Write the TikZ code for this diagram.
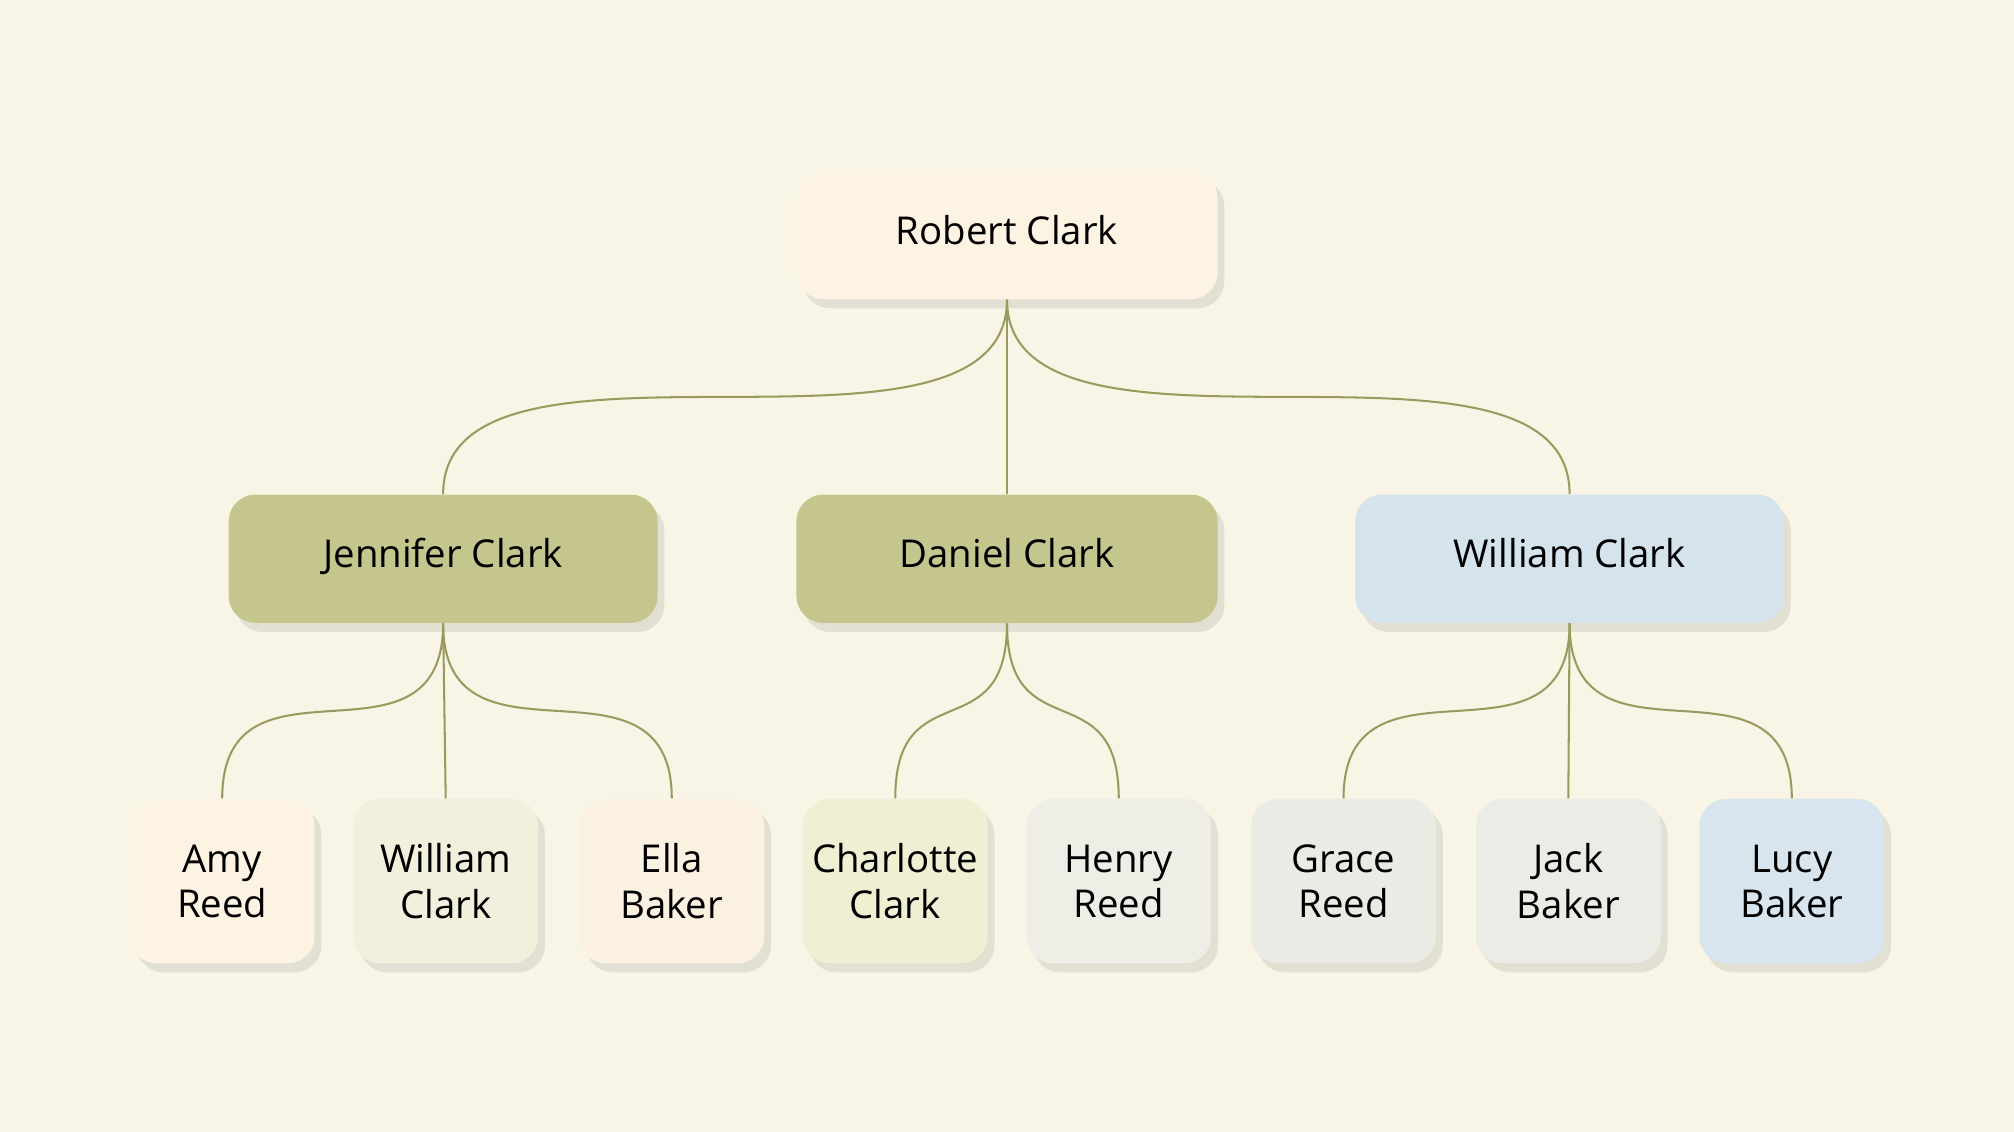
\documentclass[tikz,border=0pt]{standalone}
\usepackage{fontspec}
\setmainfont{Open Sans}
\usetikzlibrary{shadows}
\definecolor{bgcol}{HTML}{F8F4E6}
\definecolor{linecol}{HTML}{9A9A5E}
\definecolor{rootcol}{HTML}{FCF3E3}
\definecolor{olivecol}{HTML}{C5C68E}
\definecolor{bluecol}{HTML}{D5E3EC}
\definecolor{leafa}{HTML}{F1F0DC}
\definecolor{leafb}{HTML}{FBF1E1}
\definecolor{leafc}{HTML}{EEEFD3}
\definecolor{leafd}{HTML}{EEEEE6}
\definecolor{leafe}{HTML}{EBEBE5}
\definecolor{leaff}{HTML}{ECECE6}
\definecolor{leafg}{HTML}{D8E5EE}
\begin{document}
\begin{tikzpicture}[x=0.02cm,y=-0.02cm]
	\tikzstyle{box} = [rounded corners=12pt, align=center, font=\fontsize{17}{20}\selectfont,
		drop shadow={shadow xshift=3pt, shadow yshift=-4pt, opacity=0.18}]
	\tikzstyle{top} = [box, minimum width=328*0.02cm, minimum height=100*0.02cm, text height=12pt, text depth=4pt]
	\tikzstyle{leaf} = [box, minimum width=144*0.02cm, minimum height=128*0.02cm]
	\tikzstyle{link} = [draw=linecol, line width=0.9pt]

	\fill[bgcol] (0,0) rectangle (1568,881);
	\useasboundingbox (0,0) rectangle (1568,881);

	\node[top, fill=rootcol] (n1) at (784,183) {Robert Clark};

	\node[top, fill=olivecol, minimum width=334*0.02cm] (n11) at (345,435) {Jennifer Clark};
	\node[top, fill=olivecol] (n12) at (784,435) {Daniel Clark};
	\node[top, fill=bluecol, minimum width=334*0.02cm] (n13) at (1222,435) {William Clark};

	\node[leaf, fill=rootcol] (n111) at (173,686) {Amy\\Reed};
	\node[leaf, fill=leafa] (n112) at (347,686) {William\\Clark};
	\node[leaf, fill=leafb] (n113) at (523,686) {Ella\\Baker};
	\node[leaf, fill=leafc] (n121) at (697,686) {Charlotte\\Clark};
	\node[leaf, fill=leafd] (n122) at (871,686) {Henry\\Reed};
	\node[leaf, fill=leafe] (n131) at (1046,686) {Grace\\Reed};
	\node[leaf, fill=leaff] (n132) at (1221,686) {Jack\\Baker};
	\node[leaf, fill=leafg] (n133) at (1395,686) {Lucy\\Baker};

	\draw[link] (n1.south) .. controls +(0,150) and +(0,-150) .. (n11.north);
	\draw[link] (n1.south) -- (n12.north);
	\draw[link] (n1.south) .. controls +(0,150) and +(0,-150) .. (n13.north);

	\draw[link] (n11.south) .. controls +(0,125) and +(0,-125) .. (n111.north);
	\draw[link] (n11.south) -- (n112.north);
	\draw[link] (n11.south) .. controls +(0,125) and +(0,-125) .. (n113.north);

	\draw[link] (n12.south) .. controls +(0,100) and +(0,-100) .. (n121.north);
	\draw[link] (n12.south) .. controls +(0,100) and +(0,-100) .. (n122.north);

	\draw[link] (n13.south) .. controls +(0,125) and +(0,-125) .. (n131.north);
	\draw[link] (n13.south) -- (n132.north);
	\draw[link] (n13.south) .. controls +(0,125) and +(0,-125) .. (n133.north);
\end{tikzpicture}
\end{document}
